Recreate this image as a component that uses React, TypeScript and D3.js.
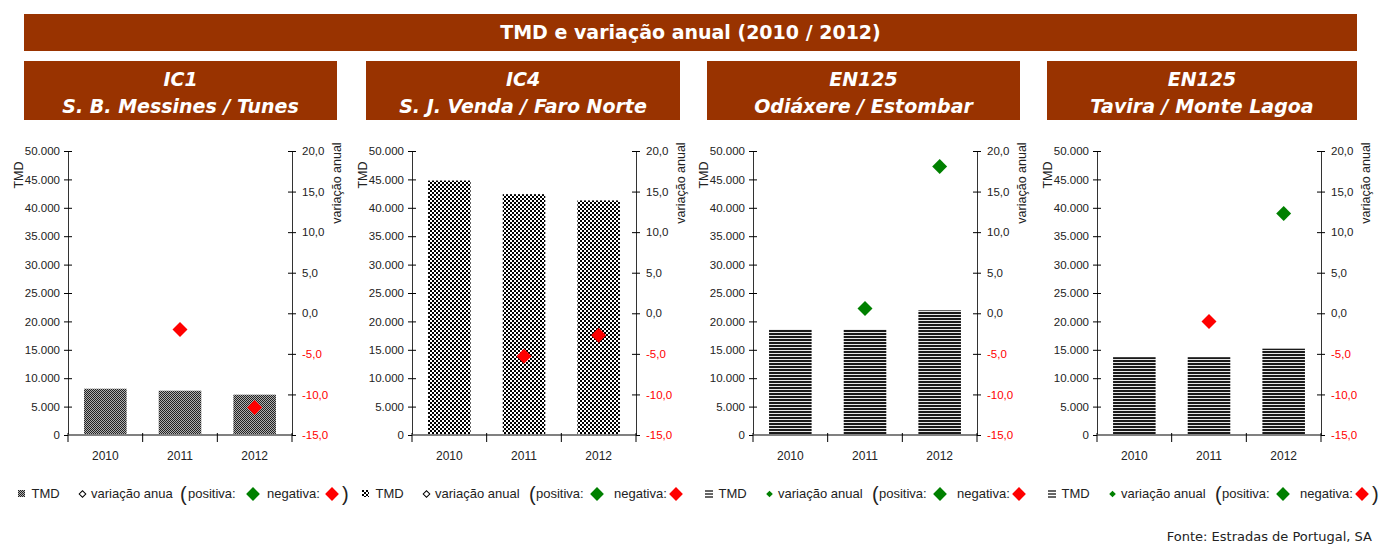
import { useEffect, useRef } from "react";
import * as d3 from "d3";

// TMD (tráfego médio diário) por ano e variação anual (%)
const years = ["2010", "2011", "2012"];
const roadCodes = ["IC1", "IC4", "EN125", "EN125"];
const roadSections = ["S. B. Messines / Tunes", "S. J. Venda / Faro Norte", "Odiáxere / Estombar", "Tavira / Monte Lagoa"];

const tmdIC1 = [8150, 7800, 7100];
const tmdIC4 = [44800, 42400, 41300];
const tmdOdiaxere = [18600, 18600, 21950];
const tmdTavira = [13700, 13700, 15200];

const varIC1 = [null, -2.0, -11.6];
const varIC4 = [null, -5.3, -2.7];
const varOdiaxere = [null, 0.6, 18.1];
const varTavira = [null, -1.0, 12.3];

const tmdDomain = [0, 50000];
const varDomain = [-15, 20];

const legendVarLabels = ["variação anua", "variação anual", "variação anual", "variação anual"];
const chartTitle = "TMD e variação anual (2010 / 2012)";
const sourceNote = "Fonte: Estradas de Portugal, SA";

const tmdSeries = [tmdIC1, tmdIC4, tmdOdiaxere, tmdTavira];
const varSeries = [varIC1, varIC4, varOdiaxere, varTavira];

const W = 1379;
const H = 544;
const brown = "#993300";
const green = "#008000";
const red = "#ff0000";
const arial = "'Liberation Sans', Arial, sans-serif";
const tahoma = "'DejaVu Sans', Verdana, sans-serif";

const pt = d3.formatLocale({ decimal: ",", thousands: ".", grouping: [3], currency: ["", " €"], minus: "-" });
const fmtTmd = pt.format(",.0f");
const fmtVar = pt.format(".1f");

function App() {
  const svgRef = useRef<SVGSVGElement | null>(null);

  useEffect(() => {
    const svg = d3.select(svgRef.current);
    svg.selectAll("*").remove();

    // textures of the bars
    const defs = svg.append("defs");
    const p0 = defs.append("pattern").attr("id", "tex0").attr("patternUnits", "userSpaceOnUse").attr("width", 2).attr("height", 2);
    p0.append("rect").attr("width", 2).attr("height", 2).attr("fill", "#b0b0b0");
    p0.append("rect").attr("width", 1).attr("height", 1).attr("fill", "#222");
    p0.append("rect").attr("x", 1).attr("y", 1).attr("width", 1).attr("height", 1).attr("fill", "#222");

    const p1 = defs.append("pattern").attr("id", "tex1").attr("patternUnits", "userSpaceOnUse").attr("width", 4).attr("height", 4);
    p1.append("rect").attr("width", 4).attr("height", 4).attr("fill", "#fff");
    p1.append("rect").attr("width", 2).attr("height", 2).attr("fill", "#000");
    p1.append("rect").attr("x", 2).attr("y", 2).attr("width", 2).attr("height", 2).attr("fill", "#000");

    const p2 = defs.append("pattern").attr("id", "tex2").attr("patternUnits", "userSpaceOnUse").attr("width", 3).attr("height", 3);
    p2.append("rect").attr("width", 3).attr("height", 3).attr("fill", "#e8e8e8");
    p2.append("rect").attr("width", 3).attr("height", 2).attr("fill", "#1a1a1a");

    const textures = ["url(#tex0)", "url(#tex1)", "url(#tex2)", "url(#tex2)"];

    // title band
    svg.append("rect").attr("x", 24).attr("y", 14).attr("width", 1333).attr("height", 37).attr("fill", brown);
    svg.append("text")
      .attr("x", 690.5).attr("y", 39)
      .attr("text-anchor", "middle")
      .attr("font-family", tahoma).attr("font-size", 19).attr("font-weight", "bold")
      .attr("fill", "#fff")
      .text(chartTitle);

    const headerX = [24, 366, 707, 1047];
    const headerW = [313, 314, 313, 310];
    const plotLeft = [68, 412, 753, 1097];
    const plotW = 224;
    const plotTop = 151;
    const plotBottom = 435;
    const legendX = [18, 362, 705, 1048];

    roadCodes.forEach((code, i) => {
      const g = svg.append("g");

      // header box
      g.append("rect").attr("x", headerX[i]).attr("y", 61).attr("width", headerW[i]).attr("height", 59).attr("fill", brown);
      const hx = headerX[i] + headerW[i] / 2;
      g.append("text")
        .attr("x", hx).attr("y", 86)
        .attr("text-anchor", "middle")
        .attr("font-family", tahoma).attr("font-size", 19).attr("font-weight", "bold").attr("font-style", "italic")
        .attr("fill", "#fff")
        .text(code);
      g.append("text")
        .attr("x", hx).attr("y", 113)
        .attr("text-anchor", "middle")
        .attr("font-family", tahoma).attr("font-size", 19).attr("font-weight", "bold").attr("font-style", "italic")
        .attr("fill", "#fff")
        .text(roadSections[i]);

      const left = plotLeft[i];
      const right = left + plotW;

      const x = d3.scaleBand().domain(years).range([left, right]).paddingInner(0.43).paddingOuter(0.215);
      const yL = d3.scaleLinear().domain(tmdDomain).range([plotBottom, plotTop]);
      const yR = d3.scaleLinear().domain(varDomain).range([plotBottom, plotTop]);

      // bars
      g.append("g")
        .selectAll("rect")
        .data(tmdSeries[i])
        .join("rect")
        .attr("x", (d, j) => x(years[j])!)
        .attr("y", (d) => yL(d))
        .attr("width", x.bandwidth())
        .attr("height", (d) => yL(0) - yL(d))
        .attr("fill", textures[i]);

      // left axis
      const gL = g.append("g")
        .attr("transform", `translate(${left},0)`)
        .call(d3.axisLeft(yL).tickValues(yL.ticks(10)).tickSizeInner(4).tickSizeOuter(0).tickPadding(4).tickFormat((d) => fmtTmd(d as number)));
      gL.attr("font-family", arial).attr("font-size", 11.5);
      gL.select(".domain").attr("stroke", "#333");
      gL.selectAll(".tick line").attr("x1", 4).attr("stroke", "#000");
      gL.selectAll(".tick text").attr("fill", "#222");

      // right axis
      const gR = g.append("g")
        .attr("transform", `translate(${right},0)`)
        .call(d3.axisRight(yR).tickValues(yR.ticks(7)).tickSizeInner(4).tickSizeOuter(0).tickPadding(6).tickFormat((d) => fmtVar(d as number)));
      gR.attr("font-family", arial).attr("font-size", 11.5);
      gR.select(".domain").attr("stroke", "#333");
      gR.selectAll(".tick line").attr("x1", -4).attr("stroke", "#000");
      gR.selectAll<SVGTextElement, number>(".tick text").attr("fill", (d) => (d < 0 ? red : "#222"));

      // base line and category ticks
      g.append("line")
        .attr("x1", left).attr("x2", right)
        .attr("y1", yL(0)).attr("y2", yL(0))
        .attr("stroke", "#808080").attr("stroke-width", 2);
      const gap = (x.step() - x.bandwidth()) / 2;
      const bounds = [...years.map((d) => x(d)! - gap), right];
      g.append("g")
        .selectAll("line")
        .data(bounds)
        .join("line")
        .attr("x1", (d) => d).attr("x2", (d) => d)
        .attr("y1", yL(0) - 2).attr("y2", yL(0) + 7)
        .attr("stroke", "#000");

      g.append("g")
        .selectAll("text")
        .data(years)
        .join("text")
        .attr("x", (d) => x(d)! + x.bandwidth() / 2)
        .attr("y", 460)
        .attr("text-anchor", "middle")
        .attr("font-family", arial).attr("font-size", 12)
        .attr("fill", "#222")
        .text((d) => d);

      // axis titles
      g.append("text")
        .attr("transform", `translate(${left - 45},175) rotate(-90)`)
        .attr("text-anchor", "middle")
        .attr("font-family", arial).attr("font-size", 12.5)
        .attr("fill", "#222")
        .text("TMD");
      g.append("text")
        .attr("transform", `translate(${right + 49},183) rotate(-90)`)
        .attr("text-anchor", "middle")
        .attr("font-family", arial).attr("font-size", 12.5)
        .attr("fill", "#222")
        .text("variação anual");

      // annual change markers
      const diamond = d3.symbol(d3.symbolSquare, 112)();
      g.append("g")
        .selectAll("path")
        .data(varSeries[i].map((v, j) => ({ v, year: years[j] })).filter((d) => d.v !== null))
        .join("path")
        .attr("d", diamond)
        .attr("transform", (d) => `translate(${x(d.year)! + x.bandwidth() / 2},${yR(d.v as number)}) rotate(45)`)
        .attr("fill", (d) => ((d.v as number) >= 0 ? green : red));

      // legend
      const lx = legendX[i];
      const lg = g.append("g").attr("font-family", arial).attr("font-size", 13).attr("fill", "#222");
      if (i < 2) {
        lg.append("rect").attr("x", lx).attr("y", 490).attr("width", 7).attr("height", 7).attr("fill", textures[i]);
      } else {
        [491, 494, 497].forEach((yy) => {
          lg.append("line").attr("x1", lx).attr("x2", lx + 8).attr("y1", yy).attr("y2", yy).attr("stroke", "#000").attr("stroke-width", 1.2);
        });
      }
      lg.append("text").attr("x", lx + 13.5).attr("y", 498).text("TMD");

      const small = d3.symbol(d3.symbolSquare, 22)();
      lg.append("path")
        .attr("d", small)
        .attr("transform", `translate(${lx + 64.5},494) rotate(45)`)
        .attr("fill", i < 2 ? "#fff" : green)
        .attr("stroke", i < 2 ? "#000" : "none");
      lg.append("text").attr("x", lx + 73).attr("y", 498).text(legendVarLabels[i]);

      lg.append("text").attr("x", lx + (i === 0 ? 162 : 167)).attr("y", 501).attr("font-size", 20).text("(");
      lg.append("text").attr("x", lx + (i === 0 ? 170 : 174)).attr("y", 498).text("positiva:");
      const big = d3.symbol(d3.symbolSquare, 95)();
      lg.append("path").attr("d", big).attr("transform", `translate(${lx + 235},494) rotate(45)`).attr("fill", green);
      lg.append("text").attr("x", lx + (i === 0 ? 249 : 252)).attr("y", 498).text("negativa:");
      lg.append("path").attr("d", big).attr("transform", `translate(${lx + 314},494) rotate(45)`).attr("fill", red);
      if (i === 0 || i === 3) {
        lg.append("text").attr("x", lx + 324).attr("y", 501).attr("font-size", 20).text(")");
      }
    });

    svg.append("text")
      .attr("x", 1372).attr("y", 541)
      .attr("text-anchor", "end")
      .attr("font-family", tahoma).attr("font-size", 13)
      .attr("fill", "#222")
      .text(sourceNote);
  }, []);

  return (
    <svg
      ref={svgRef}
      width={W}
      height={H}
      viewBox={`0 0 ${W} ${H}`}
      style={{ position: "absolute", left: 0, top: 0, display: "block", background: "#fff" }}
    />
  );
}

export default App;
